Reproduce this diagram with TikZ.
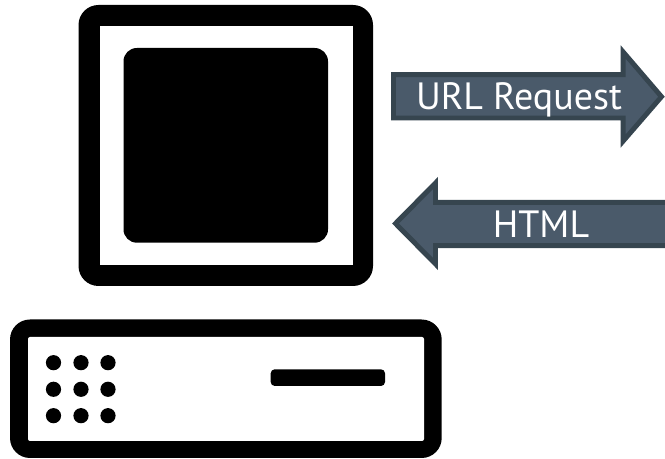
\documentclass[tikz,border=0pt]{standalone}
\usepackage{fontspec}
\setmainfont{PT Sans}
\usepackage{tikz}
\definecolor{arrowfill}{HTML}{4A5A6A}
\definecolor{arrowline}{HTML}{36454F}
\begin{document}
\begin{tikzpicture}[x=0.75pt,y=-0.75pt
        ,solid box/.style = {fill=black,draw=none}
        ,hole/.style = {fill=white,draw=none,rounded corners=1.5pt}
        ,led/.style = {fill=black,draw=none,circle,minimum size=11.4pt,inner sep=0pt}
        ,flow/.style = {fill=arrowfill,draw=arrowline,line width=3.7pt,miter limit=10}
        ,legend/.style = {font=\fontsize{28.5pt}{30pt}\selectfont,text=white,inner sep=0pt,anchor=base}
      ]
      \useasboundingbox (0,0) rectangle (665,459);

      % monitor
      \fill[solid box,rounded corners=15pt] (78.5,5) rectangle (373,286);
      \fill[white] (99.5,26) rectangle (352.7,265);
      \fill[solid box,rounded corners=10pt] (123.5,48) rectangle (328,242.7);

      % base unit
      \fill[solid box,rounded corners=15pt] (10,319.5) rectangle (441.7,458);
      \fill[hole] (28,337) rectangle (424,441);
      \foreach \px in {53.5,81,108}
        \foreach \py in {362.7,389.3,415.7}
          \node[led] (led-\px-\py) at (\px,\py) {};
      \fill[solid box,rounded corners=3pt] (270.7,369.3) rectangle (385,386);

      % arrows
      \draw[flow] (393.5,74.7) -- (623.2,74.7) -- (623.2,52) -- (661.5,96.7) -- (623.2,141) -- (623.2,118) -- (393.5,118) -- cycle;
      \draw[flow] (670,202.4) -- (435.5,202.4) -- (435.5,183) -- (395.5,223.5) -- (435.5,264) -- (435.5,245.6) -- (670,245.6) -- cycle;

      \node[legend] (request) at (519,110) {URL Request};
      \node[legend] (html) at (541,238) {HTML};
    \end{tikzpicture}
\end{document}
